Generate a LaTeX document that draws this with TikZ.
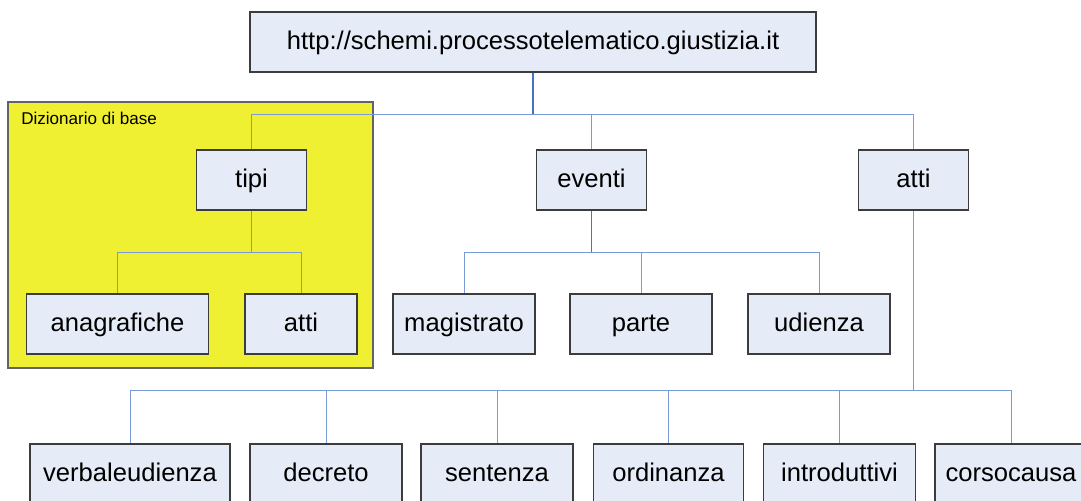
\documentclass[tikz,border=0pt]{standalone}
\usepackage{fontspec}
\setmainfont{Liberation Sans}
\definecolor{boxfill}{RGB}{230,236,247}
\definecolor{boxline}{RGB}{60,60,60}
\definecolor{connblue}{RGB}{120,155,215}
\definecolor{conndark}{RGB}{70,115,195}
\definecolor{yel}{RGB}{240,240,50}
\tikzset{
  box/.style={draw=boxline, fill=boxfill, line width=0.8pt, rectangle, inner sep=0pt,
    minimum height=45pt, text height=14pt, text depth=3pt,
    font=\fontsize{19.2}{23}\selectfont},
  conn/.style={draw=connblue, line width=0.75pt},
  conndk/.style={draw=conndark, line width=0.9pt},
  group/.style={draw=boxline!80, fill=yel, line width=0.8pt}
}
\begin{document}
\begin{tikzpicture}[x=0.75pt,y=-0.75pt]
\useasboundingbox (0,0) rectangle (1081,500);
\clip (0,0) rectangle (1081,500);
% group
\draw[group] (8,102) rectangle (373,368);
\node[anchor=west, inner sep=0pt, font=\fontsize{12.8}{15}\selectfont] (glabel) at (21,118) {Dizionario di base};
% nodes
\node[box, minimum width=424.5pt] (top) at (533,42) {http://schemi.processotelematico.giustizia.it};
\node[box, minimum width=83pt] (tipi) at (251.5,180) {tipi};
\node[box, minimum width=83pt] (eventi) at (591.5,180) {eventi};
\node[box, minimum width=82.5pt] (atti) at (913.5,180) {atti};
\node[box, minimum width=137pt] (anag) at (117.5,324) {anagrafiche};
\node[box, minimum width=84pt] (attib) at (301,324) {atti};
\node[box, minimum width=106.5pt] (magi) at (464,324) {magistrato};
\node[box, minimum width=106.5pt] (parte) at (641,324) {parte};
\node[box, minimum width=106.5pt] (udie) at (819,324) {udienza};
\node[box, minimum width=150pt] (verb) at (130,474) {verbaleudienza};
\node[box, minimum width=114pt] (decr) at (326,474) {decreto};
\node[box, minimum width=114pt] (sent) at (497,474) {sentenza};
\node[box, minimum width=113pt] (ordi) at (668.5,474) {ordinanza};
\node[box, minimum width=114.5pt] (intr) at (839.5,474) {introduttivi};
\node[box, minimum width=114pt] (cors) at (1011,474) {corsocausa};
% connectors
\coordinate (b1) at (533,114);
\coordinate (b2) at (251.5,252);
\coordinate (b3) at (591.5,252);
\coordinate (b4) at (913.5,390);
\draw[conndk] (top.south) -- (b1);
\draw[conn] (b1) -| (tipi.north);
\draw[conn] (b1) -| (eventi.north);
\draw[conn] (b1) -| (atti.north);
\draw[conn] (tipi.south) -- (b2);
\draw[conn] (b2) -| (anag.north);
\draw[conn] (b2) -| (attib.north);
\draw[conndk] (eventi.south) -- (b3);
\draw[conn] (b3) -| (magi.north);
\draw[conn] (b3) -| (parte.north);
\draw[conn] (b3) -| (udie.north);
\draw[conn] (atti.south) -- (b4);
\draw[conn] (b4) -| (verb.north);
\draw[conn] (b4) -| (decr.north);
\draw[conn] (b4) -| (sent.north);
\draw[conn] (b4) -| (ordi.north);
\draw[conn] (b4) -| (intr.north);
\draw[conn] (b4) -| (cors.north);
\end{tikzpicture}
\end{document}
